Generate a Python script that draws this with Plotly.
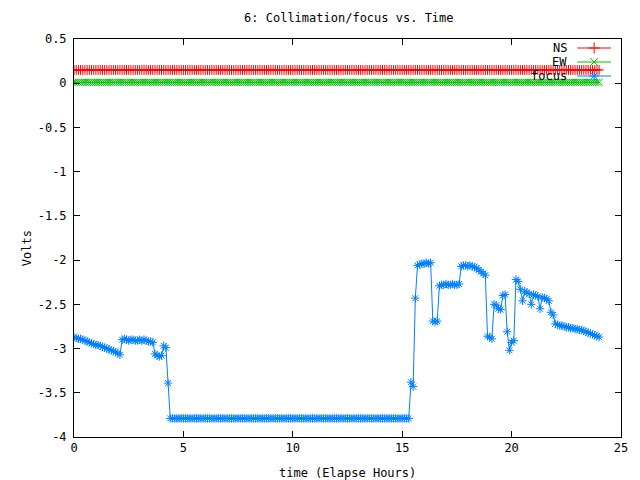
import numpy as np
import plotly.graph_objects as go

# ---- data ----
sample_hours = np.round(np.arange(241) * 0.1, 1)   # sampling grid 0.0 .. 24.0 h

ns_volts = [0.15] * 241
ew_volts = [0.01] * 241

focus_volts = (
    [-2.87, -2.88, -2.89, -2.89, -2.90, -2.91, -2.92, -2.93, -2.94, -2.95, -2.96,
     -2.96, -2.97, -2.98, -2.99, -3.00, -3.01, -3.02, -3.03, -3.04, -3.05, -3.07]
    + [-2.90, -2.89, -2.90, -2.91, -2.90, -2.90, -2.91, -2.91, -2.90, -2.91, -2.90,
       -2.91, -2.92, -2.92, -2.93]
    + [-3.06, -3.08, -3.09, -3.08, -2.97, -2.99, -3.39]
    + [-3.79] * 110
    + [-3.38, -3.43, -2.43, -2.06, -2.05, -2.04, -2.04, -2.03, -2.04, -2.03]
    + [-2.69, -2.70, -2.69]
    + [-2.29, -2.28, -2.28, -2.27, -2.28, -2.28, -2.27, -2.28, -2.28, -2.27]
    + [-2.07, -2.06, -2.06, -2.07, -2.06, -2.07, -2.08, -2.09, -2.11, -2.13, -2.15, -2.17]
    + [-2.86, -2.87, -2.89, -2.50, -2.51, -2.55, -2.56, -2.40, -2.39, -2.81, -3.02]
    + [-2.93, -2.91, -2.22, -2.24, -2.33, -2.46, -2.35, -2.37, -2.38, -2.50]
    + [-2.39, -2.40, -2.41, -2.55, -2.42, -2.43, -2.44, -2.46, -2.59, -2.62]
    + [-2.72, -2.73, -2.74, -2.74, -2.75, -2.76, -2.76, -2.77, -2.77, -2.78,
       -2.78, -2.79, -2.79, -2.80, -2.81, -2.82, -2.83, -2.84, -2.85, -2.86, -2.87]
)

series_names = ["NS", "EW", "focus"]
series_colors = ["#ff0000", "#00c000", "#0080ff"]
series_symbols = ["cross-thin-open", "x-thin-open", "asterisk-open"]

x_ticks = [0, 5, 10, 15, 20, 25]
y_ticks = [0.5, 0, -0.5, -1, -1.5, -2, -2.5, -3, -3.5, -4]
y_tick_labels = ["0.5", "0", "-0.5", "-1", "-1.5", "-2", "-2.5", "-3", "-3.5", "-4"]

FONT = "DejaVu Sans Mono"

fig = go.Figure()
for name, vals, col, sym in zip(series_names, [ns_volts, ew_volts, focus_volts],
                                series_colors, series_symbols):
    fig.add_trace(go.Scatter(
        x=sample_hours, y=vals, mode="lines+markers", name=name,
        line=dict(color=col, width=1),
        marker=dict(symbol=sym, size=7, color=col, line=dict(color=col, width=1)),
        showlegend=False, xaxis="x", yaxis="y"))

# custom gnuplot-style key (text right, sample on the right), in pixel-like overlay axes
key_rows = [48, 62, 76]
for name, col, sym, ky in zip(series_names, series_colors, series_symbols, key_rows):
    fig.add_trace(go.Scatter(
        x=[580, 614], y=[ky, ky], mode="lines", line=dict(color=col, width=1),
        showlegend=False, xaxis="x2", yaxis="y2", hoverinfo="skip"))
    fig.add_trace(go.Scatter(
        x=[597], y=[ky], mode="markers",
        marker=dict(symbol=sym, size=8, color=col, line=dict(color=col, width=1)),
        showlegend=False, xaxis="x2", yaxis="y2", hoverinfo="skip"))
    fig.add_annotation(x=572, y=ky, xref="x2", yref="y2", text=name, showarrow=False,
                       xanchor="right", yanchor="middle",
                       font=dict(family=FONT, size=12, color="black"))

fig.update_layout(
    width=640, height=480,
    margin=dict(l=74, r=16, t=39, b=43),
    paper_bgcolor="white", plot_bgcolor="white",
    title=dict(text="6: Collimation/focus vs. Time", x=0.545, xanchor="center",
               y=1 - 18 / 480, yanchor="middle",
               font=dict(family=FONT, size=12, color="black")),
    xaxis=dict(range=[0, 25], tickvals=x_ticks, ticktext=[str(v) for v in x_ticks],
               ticks="inside", ticklen=6, tickcolor="black", mirror="ticks",
               showline=True, linecolor="black", linewidth=1, showgrid=False,
               zeroline=False, tickfont=dict(family=FONT, size=12, color="black")),
    yaxis=dict(range=[-4, 0.5], tickvals=y_ticks, ticktext=y_tick_labels,
               ticks="inside", ticklen=6, tickcolor="black", mirror="ticks",
               showline=True, linecolor="black", linewidth=1, showgrid=False,
               zeroline=False, tickfont=dict(family=FONT, size=12, color="black"),
               ticklabelstandoff=4),
    xaxis2=dict(range=[74, 624], overlaying="x", visible=False, anchor="y2"),
    yaxis2=dict(range=[437, 39], overlaying="y", visible=False, anchor="x2"),
)

fig.add_annotation(x=0.5, y=-36 / 398, xref="paper", yref="paper",
                   text="time (Elapse Hours)", showarrow=False,
                   xanchor="center", yanchor="middle",
                   font=dict(family=FONT, size=12, color="black"))
fig.add_annotation(x=-47 / 550, y=(437 - 248) / 398, xref="paper", yref="paper",
                   text="Volts", showarrow=False, textangle=-90,
                   xanchor="center", yanchor="middle",
                   font=dict(family=FONT, size=12, color="black"))

fig.write_html("out.html")
